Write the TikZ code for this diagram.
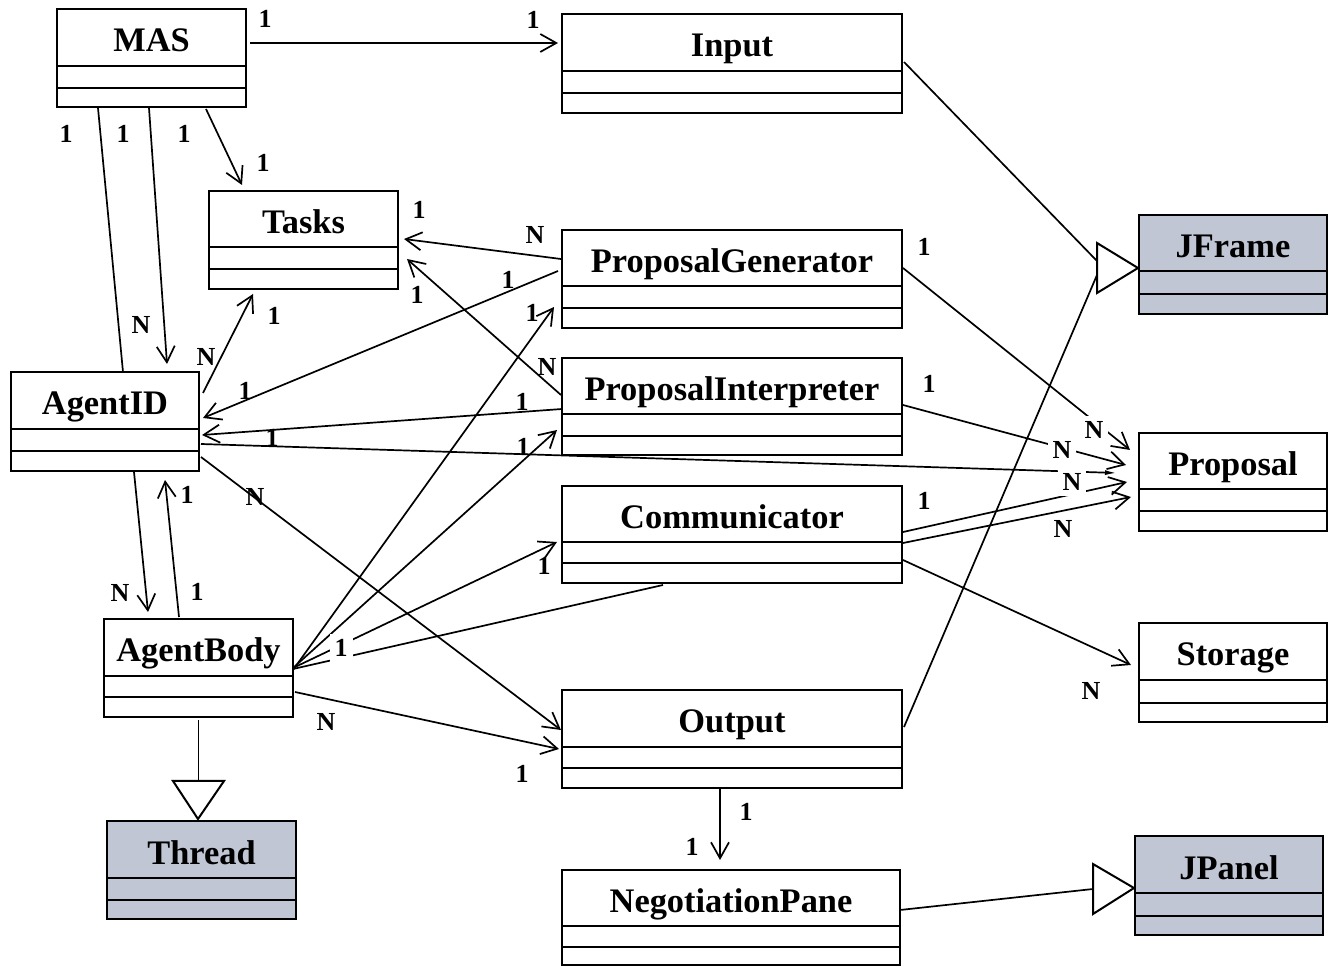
\documentclass[tikz,border=0pt]{standalone}
\usepackage{fontspec}
\setmainfont{Liberation Serif}
\usetikzlibrary{arrows.meta}
\definecolor{libgray}{RGB}{192,198,212}

\tikzset{
  classbox/.style={draw, rectangle, line width=1.2pt, inner sep=0pt, outer sep=0pt},
  libclass/.style={fill=libgray},
  divider/.style={line width=1pt},
  classname/.style={font=\fontsize{17.2}{20}\selectfont\bfseries, inner sep=0pt, anchor=base},
  assoc/.style={line width=0.85pt, -{Straight Barb[length=8pt,width=9pt]}},
  assocend/.style={line width=0.85pt, -{Latex[length=6pt,width=2.5pt]}},
  link/.style={line width=0.85pt},
  mult/.style={font=\fontsize{13}{15}\selectfont\bfseries, inner sep=1pt},
  gapmult/.style={mult, fill=white, inner sep=2.5pt},
  gentri/.style={line width=1pt, fill=white, line join=miter},
}

% \umlclass[style]{name}{x1}{y1}{x2}{y2}{divider1}{divider2}{title}
\newcommand{\umlclass}[9][]{%
  \node[classbox,#1,minimum width={(#5-#3)*0.5pt},minimum height={(#6-#4)*0.5pt}]
    (#2) at ({(#3+#5)/2},{(#4+#6)/2}) {};
  \draw[divider] (#3,#7) -- (#5,#7);
  \draw[divider] (#3,#8) -- (#5,#8);
  \node[classname] (#2-title) at ({(#3+#5)/2},{(#4+#7)/2+14.5}) {#9};
}

\begin{document}
\begin{tikzpicture}[x=0.5pt,y=-0.5pt]
\useasboundingbox (0,0) rectangle (1334,967);

% ---------------- classes ----------------
\umlclass{mas}{57}{9}{246}{107}{66}{88}{MAS}
\umlclass{input}{562}{14}{902}{113}{71}{93}{Input}
\umlclass{tasks}{209}{191}{398}{289}{247}{269}{Tasks}
\umlclass{pg}{562}{230}{902}{328}{286}{308}{ProposalGenerator}
\umlclass{pi}{562}{358}{902}{455}{414}{436}{ProposalInterpreter}
\umlclass{comm}{562}{486}{902}{583}{542}{563}{Communicator}
\umlclass{output}{562}{690}{902}{788}{747}{768}{Output}
\umlclass{negp}{562}{870}{900}{965}{926}{947}{NegotiationPane}
\umlclass{agentid}{11}{372}{199}{471}{429}{451}{AgentID}
\umlclass{agentbody}{104}{619}{293}{717}{676}{697}{AgentBody}
\umlclass[libclass]{thread}{107}{821}{296}{919}{878}{900}{Thread}
\umlclass[libclass]{jframe}{1139}{215}{1327}{314}{271}{294}{JFrame}
\umlclass{proposal}{1139}{433}{1327}{531}{489}{511}{Proposal}
\umlclass{storage}{1139}{623}{1327}{722}{680}{703}{Storage}
\umlclass[libclass]{jpanel}{1135}{836}{1323}{935}{893}{916}{JPanel}

% base points of the generalization triangles
\coordinate (jfbase) at ([shift={(-42,3.5)}]jframe.west);
\coordinate (jpbase) at ([shift={(-42,3.5)}]jpanel.west);
\coordinate (thbase) at ([shift={(-3,-40)}]thread.north);

% ---------------- associations ----------------
% MAS
\draw[assoc] ([shift={(4,-15)}]mas.east) -- ([shift={(-4,-20.5)}]input.west);
\draw[assoc] ([shift={(54.5,2)}]mas.south) -- ([shift={(-61.5,-6)}]tasks.north);
\draw[assoc] ([shift={(-2.5,1)}]mas.south) -- ([shift={(62,-8)}]agentid.north);
\draw[link]  ([shift={(-53.5,1)}]mas.south) -- ([shift={(18,0)}]agentid.north);

% Tasks
\draw[assoc] ([shift={(4,-28.5)}]agentid.east) -- ([shift={(-50.5,5)}]tasks.south);
\draw[assoc] ([shift={(-1,-20)}]pg.west) -- ([shift={(6,-1)}]tasks.east);
\draw[assoc] ([shift={(-1,-11.5)}]pi.west) -- ([shift={(9,19)}]tasks.east);

% AgentID
\draw[assoc] ([shift={(-4,-8)}]pg.west) -- ([shift={(4,-3.5)}]agentid.east);
\draw[assoc] ([shift={(0,2.5)}]pi.west) -- ([shift={(3,13.5)}]agentid.east);
\draw[assocend] ([shift={(2,22.5)}]agentid.east) -- ([shift={(-22,-9)}]proposal.west);
\draw[assoc] ([shift={(2,35.5)}]agentid.east) -- ([shift={(-1,-9)}]output.west);
\draw[assoc] ([shift={(29,1)}]agentid.south) -- ([shift={(-50.5,-7)}]agentbody.north);
\draw[assoc] ([shift={(-19.5,-2)}]agentbody.north) -- ([shift={(60,9)}]agentid.south);

% AgentBody
\draw[assoc] ([shift={(0,2)}]agentbody.east) -- ([shift={(-8,28)}]pg.west);
\draw[assoc] (agentbody.east) -- ([shift={(-5,23.5)}]pi.west);
\draw[assoc] (agentbody.east) -- ([shift={(-5,7.5)}]comm.west);
\draw[link]  ([shift={(-69,2)}]comm.south) -- ([shift={(0,1)}]agentbody.east);
\draw[assoc] ([shift={(2,24)}]agentbody.east) -- ([shift={(-3,10)}]output.west);

% Proposal and Storage
\draw[assoc] ([shift={(1,-11)}]pg.east) -- ([shift={(-9,-32)}]proposal.west);
\draw[assoc] ([shift={(1,-1.5)}]pi.east) -- ([shift={(-13,-17)}]proposal.west);
\draw[assoc] ([shift={(1,-2.5)}]comm.east) -- ([shift={(-12,0)}]proposal.west);
\draw[assoc] ([shift={(1,8.5)}]comm.east) -- ([shift={(-8,15)}]proposal.west);
\draw[assoc] ([shift={(1,25.5)}]comm.east) -- ([shift={(-8,-7.5)}]storage.west);

% Output
\draw[assoc] ([shift={(-12,0)}]output.south) -- ([shift={(-11,-10)}]negp.north);

% ---------------- generalizations ----------------
\draw[link] ([shift={(2,-1.5)}]input.east) -- ([shift={(0,-7)}]jfbase);
\draw[link] ([shift={(2,-12)}]output.east) -- ([shift={(0,7)}]jfbase);
\draw[gentri] ([shift={(-1,3.5)}]jframe.west) -- ([shift={(-42,-21.5)}]jframe.west)
  -- ([shift={(-42,28.5)}]jframe.west) -- cycle;

\draw[link] ([shift={(0,-7.5)}]negp.east) -- (jpbase);
\draw[gentri] ([shift={(-1,2.5)}]jpanel.west) -- ([shift={(-42,-21.5)}]jpanel.west)
  -- ([shift={(-42,28.5)}]jpanel.west) -- cycle;

\draw[link] ([shift={(0,3)}]agentbody.south) -- (thbase);
\draw[gentri] ([shift={(-3.5,-2)}]thread.north) -- ([shift={(-28.5,-40)}]thread.north)
  -- ([shift={(22.5,-40)}]thread.north) -- cycle;

% ---------------- multiplicities ----------------
\node[mult] (m01) at (265,19) {1};
\node[mult] (m02) at (533,20) {1};
\node[mult] (m03) at (66,134) {1};
\node[mult] (m04) at (123,134) {1};
\node[mult] (m05) at (184,134) {1};
\node[mult] (m06) at (263,163) {1};
\node[mult] (m07) at (141,325) {N};
\node[mult] (m08) at (419,210) {1};
\node[mult] (m09) at (535,235) {N};
\node[mult] (m10) at (417,295) {1};
\node[mult] (m11) at (508,280) {1};
\node[mult] (m12) at (274,316) {1};
\node[mult] (m13) at (206,357) {N};
\node[mult] (m14) at (245,391) {1};
\node[mult] (m15) at (532,313) {1};
\node[mult] (m16) at (547,367) {N};
\node[mult] (m17) at (522,402) {1};
\node[mult] (m18) at (272,438) {1};
\node[mult] (m19) at (523,447) {1};
\node[mult] (m20) at (255,497) {N};
\node[mult] (m21) at (187,495) {1};
\node[mult] (m22) at (120,593) {N};
\node[mult] (m23) at (197,592) {1};
\node[mult] (m24) at (544,566) {1};
\node[gapmult] (m25) at (341,648) {1};
\node[mult] (m26) at (326,722) {N};
\node[mult] (m27) at (522,774) {1};
\node[mult] (m28) at (924,247) {1};
\node[mult] (m29) at (929,384) {1};
\node[mult] (m30) at (924,501) {1};
\node[gapmult] (m31) at (1094,430) {N};
\node[gapmult] (m32) at (1062,450) {N};
\node[gapmult] (m33) at (1072,482) {N};
\node[mult] (m34) at (1063,529) {N};
\node[mult] (m35) at (1091,691) {N};
\node[mult] (m36) at (746,812) {1};
\node[mult] (m37) at (692,847) {1};
\end{tikzpicture}
\end{document}
